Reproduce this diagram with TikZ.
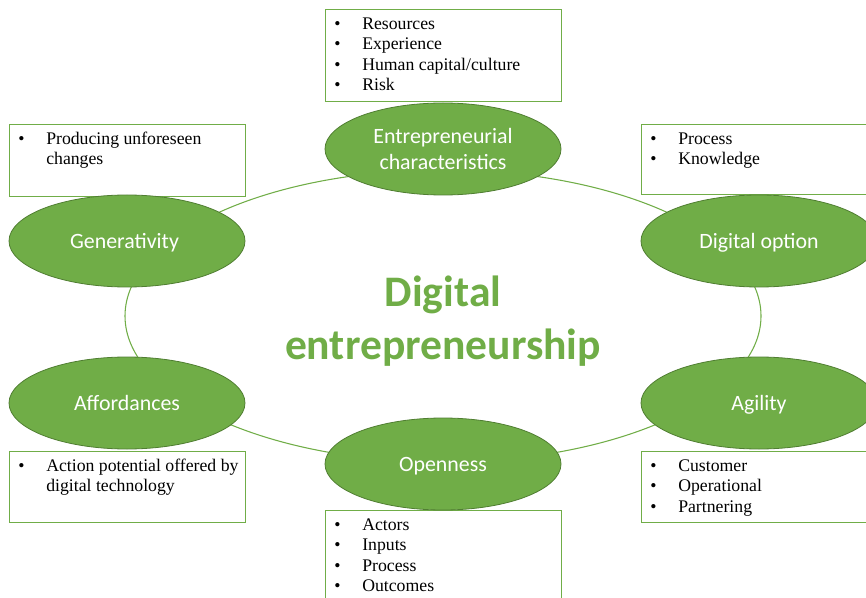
\documentclass[tikz,border=0pt]{standalone}
\usepackage{fontspec}
\usepackage{array}
\setmainfont{Liberation Serif}
\newfontfamily\calibfont{Carlito}
\usetikzlibrary{shapes.geometric}

\definecolor{leaf}{HTML}{70AD47}
\definecolor{leafdark}{HTML}{507E32}

% bulleted list with hanging lines
\newcommand{\pointlist}[1]{%
  \begin{tabular}{@{}p{21pt}@{}>{\raggedright\arraybackslash}p{150pt}@{}}#1\end{tabular}}

\tikzset{
  bubble/.style={ellipse, fill=leaf, draw=leafdark, line width=0.6pt,
    minimum width=177pt, minimum height=69pt, inner sep=0pt,
    text=white, align=center, font=\calibfont\fontsize{16.4}{19.5}\selectfont},
  oneline/.style={text depth=0pt},
  infobox/.style={draw=leaf, line width=0.9pt, fill=white, anchor=north west,
    minimum width=177pt, inner sep=0pt},
  boxtext/.style={anchor=north west, inner sep=0pt,
    font=\fontsize{13.3}{15.3}\selectfont},
  ring/.style={draw=leaf, line width=0.8pt},
  headline/.style={text=leaf, align=center,
    font=\calibfont\bfseries\fontsize{32.7}{39.75}\selectfont},
}

\begin{document}
\begin{tikzpicture}[x=0.75pt, y=-0.75pt]
  \path[use as bounding box, clip] (0,0) rectangle (866,598);

  % ring through the six factors
  \coordinate (hub) at (443,316);
  \draw[ring] (hub) ellipse [x radius=318, y radius=146];

  % boxes with the sub-points
  \node[infobox, minimum height=69pt] (entbox) at (325,9) {};
  \node[boxtext] (entlist) at ([shift={(9,6)}]entbox.north west)
    {\pointlist{\textbullet & Resources\\ \textbullet & Experience\\
      \textbullet & Human capital/culture\\ \textbullet & Risk}};

  \node[infobox, minimum height=54pt] (genbox) at (9,124) {};
  \node[boxtext] (genlist) at ([shift={(9,6)}]genbox.north west)
    {\pointlist{\textbullet & Producing unforeseen changes}};

  \node[infobox, minimum height=52.5pt] (digbox) at (641,124) {};
  \node[boxtext] (diglist) at ([shift={(9,6)}]digbox.north west)
    {\pointlist{\textbullet & Process\\ \textbullet & Knowledge}};

  \node[infobox, minimum height=53.25pt] (affbox) at (9,451) {};
  \node[boxtext] (afflist) at ([shift={(9,6)}]affbox.north west)
    {\pointlist{\textbullet & Action potential offered by digital technology}};

  \node[infobox, minimum height=53.25pt] (agibox) at (641,451) {};
  \node[boxtext] (agilist) at ([shift={(9,6)}]agibox.north west)
    {\pointlist{\textbullet & Customer\\ \textbullet & Operational\\
      \textbullet & Partnering}};

  \node[infobox, minimum height=75pt] (openbox) at (325,510) {};
  \node[boxtext] (openlist) at ([shift={(9,6)}]openbox.north west)
    {\pointlist{\textbullet & Actors\\ \textbullet & Inputs\\
      \textbullet & Process\\ \textbullet & Outcomes}};

  % the six factors
  \node[bubble] (ent) at (443,149) {Entrepreneurial\\characteristics};
  \foreach \name/\x/\y/\txt in {
    dig/759/241/{Digital option},
    agi/759/403/{Agility},
    open/443/464/{Openness},
    aff/127/403/{Affordances},
    gen/127/241/{Generativity}
  }{
    \node[bubble, oneline] (\name) at (\x,\y) {\txt};
  }

  % centre heading
  \node[headline] (title) at (443,321) {Digital\\entrepreneurship};
\end{tikzpicture}
\end{document}
